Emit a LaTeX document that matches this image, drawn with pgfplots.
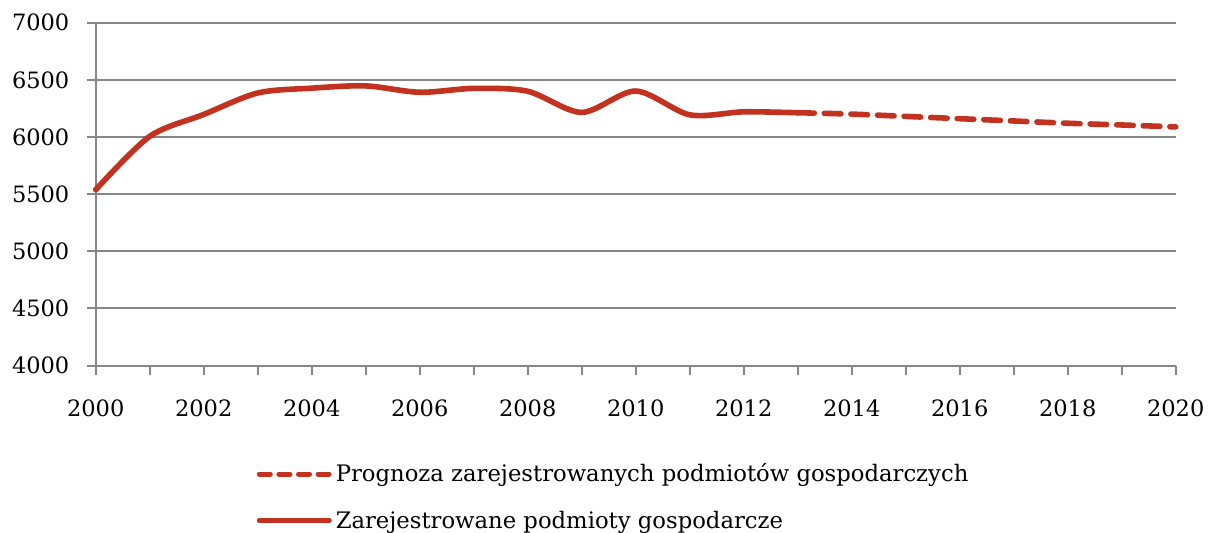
\documentclass[border=0pt]{standalone}
\usepackage{pgfplots}
\pgfplotsset{compat=1.18}
\usepackage{fontspec}
\setmainfont{DejaVu Serif}
\definecolor{linered}{RGB}{194,50,30}
\definecolor{gridgray}{RGB}{134,134,134}
\begin{document}
\begin{tikzpicture}
\path[use as bounding box] (-47.85bp,-83.75bp) rectangle (556.15bp,182.75bp);
\begin{axis}[
  at={(0,0)}, anchor=south west,
  scale only axis, width=540bp, height=171.4bp,
  xmin=2000, xmax=2020, ymin=4000, ymax=7000,
  xtick={2000,2002,...,2020},
  minor xtick={2001,2003,...,2019},
  ytick={4000,4500,...,7000},
  axis x line=bottom, axis y line=left,
  axis line style={-, draw=gridgray, line width=1bp},
  tick align=outside,
  major tick length=4.5bp, minor tick length=4.5bp,
  every tick/.style={draw=gridgray, line width=1bp},
  minor tick style={draw=gridgray, line width=1bp},
  ymajorgrids, major grid style={draw=gridgray, line width=1bp},
  /pgf/number format/assume math mode=true,
  /pgf/number format/1000 sep={},
  tick label style={font=\fontsize{11.3}{13}\selectfont, text=black},
  yticklabel style={inner sep=0pt, anchor=east, xshift=-8.5bp},
  xticklabel style={inner sep=0pt, anchor=north, yshift=-12.35bp},
  clip=false,
  legend style={draw=none, fill=none, inner sep=0pt, outer sep=0pt,
    at={(0,0)}, anchor=north west, xshift=80.55bp, yshift=-49.8bp,
    row sep=12.5bp, column sep=0pt,
    font=\fontsize{11.4}{13}\selectfont,
    nodes={inner sep=0pt, text height=8.3bp, text depth=2.5bp, anchor=base west}},
  legend cell align=left,
  legend image code/.code={\path[draw=none, fill=none] (0,3.85bp) rectangle (39.5bp,3.85bp); \draw[#1, line width=2.5bp] (1.25bp,3.85bp) -- (36.25bp,3.85bp);},
]
\addplot[linered, line width=2.8bp, smooth, line cap=round, dash pattern=on 8.3bp off 5bp,
  legend image post style={dash pattern=on 5.5bp off 4.3bp}] coordinates {
(2013,6212) (2014,6200) (2015,6180) (2016,6160) (2017,6140) (2018,6120) (2019,6105) (2020,6088)
};
\addlegendentry{Prognoza zarejestrowanych podmiotów gospodarczych}
\addplot[linered, line width=2.8bp, smooth, line cap=round, solid] coordinates {
(2000,5538) (2001,6005) (2002,6197) (2003,6385) (2004,6427) (2005,6447) (2006,6391)
(2007,6425) (2008,6400) (2009,6215) (2010,6402) (2011,6194) (2012,6220) (2013,6212)
};
\addlegendentry{Zarejestrowane podmioty gospodarcze}
\end{axis}
\end{tikzpicture}
\end{document}
